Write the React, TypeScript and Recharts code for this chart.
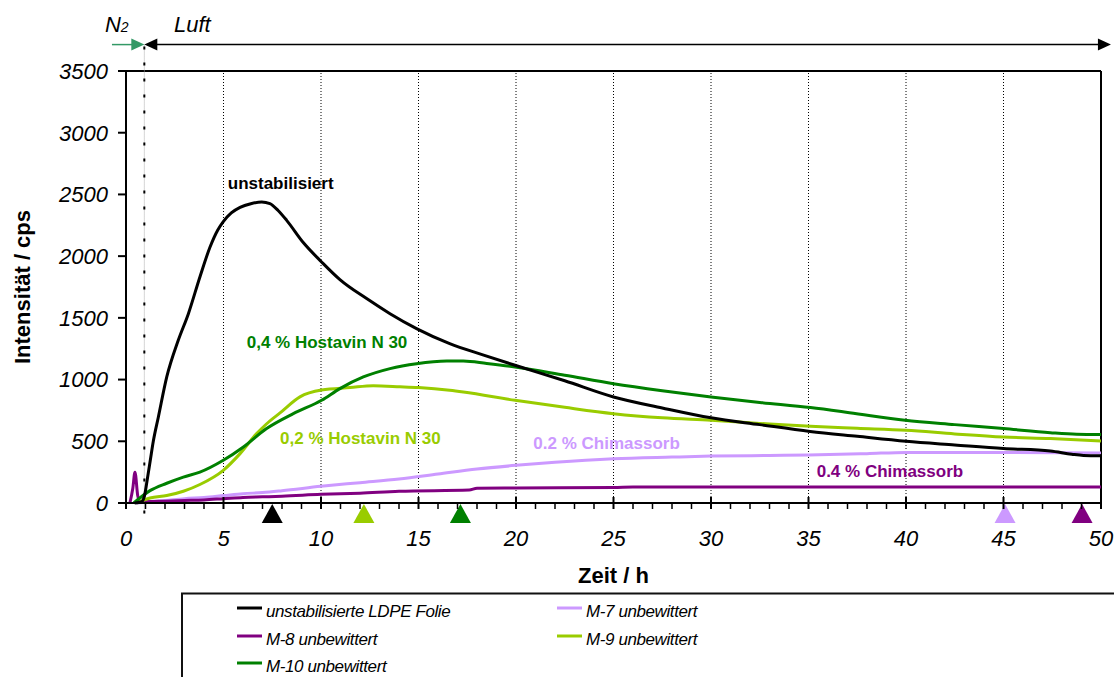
import React from 'react';
import { LineChart, Line, XAxis, YAxis, ReferenceLine, ReferenceDot } from 'recharts';

const FONT = '"Liberation Sans", Arial, Helvetica, sans-serif';

// ---- series data (time in h, intensity in cps) ----
const unstabTime = [0.45, 0.8, 0.95, 1.1, 1.25, 1.4, 1.66, 2.09, 2.68, 3.2, 3.79, 4.31, 4.7, 4.99, 5.4, 5.85, 6.4, 6.96, 7.38, 7.8, 8.24, 9.09, 10.03, 10.97, 12.34, 13.54, 14.9, 16.6, 18.3, 19.95, 22.5, 25, 27.5, 30, 32.5, 35.08, 37.5, 40, 42.5, 45, 47.4, 48.5, 49.1, 50];
const unstabValue = [0, 10, 60, 200, 350, 500, 697, 1021, 1318, 1534, 1831, 2074, 2210, 2280, 2350, 2395, 2425, 2439, 2426, 2370, 2290, 2110, 1953, 1810, 1656, 1534, 1413, 1291, 1200, 1116, 990, 859, 770, 690, 635, 580, 540, 500, 470, 441, 421, 395, 385, 382];

const m7Time = [0.5, 0.9, 2, 3, 4, 5, 6, 7, 8, 10, 12, 14, 16, 18, 20, 22, 25, 28, 30, 33, 35, 38, 40, 45, 50];
const m7Value = [0, 5, 20, 35, 45, 60, 75, 85, 100, 135, 165, 195, 235, 275, 305, 330, 358, 372, 380, 385, 388, 400, 410, 410, 405];

const m8Time = [0.2, 0.35, 0.46, 0.6, 0.72, 1, 2, 3, 4, 5, 6, 7, 8, 10, 12, 14, 17.6, 18, 20, 25, 26, 30, 40, 50];
const m8Value = [0, 120, 250, 60, 5, 10, 15, 20, 25, 35, 45, 50, 55, 70, 80, 95, 105, 120, 122, 125, 130, 130, 130, 130];

const m9Time = [0.55, 1.23, 2.09, 2.94, 3.79, 4.99, 5.85, 6.7, 7.2, 7.9, 8.92, 10.03, 11.49, 12.68, 14.05, 15, 16.6, 17.3, 19.95, 22.5, 25, 27.5, 30, 32.5, 35.1, 37.5, 40, 42.5, 45, 47.4, 50];
const m9Value = [0, 40, 60, 95, 150, 265, 400, 562, 640, 730, 860, 915, 935, 950, 942, 935, 913, 899, 832, 775, 724, 690, 670, 645, 621, 605, 589, 560, 535, 522, 502];

const m10Time = [0.4, 1.23, 2.09, 2.94, 3.79, 4.99, 6.02, 7.21, 8.58, 10.03, 10.97, 12.17, 13.54, 14.9, 16.45, 17.3, 18.5, 19.95, 22.5, 25, 27.5, 30, 32.5, 35.1, 37.1, 39.95, 42.5, 45, 47.4, 48.75, 50];
const m10Value = [0, 100, 160, 210, 250, 346, 454, 603, 724, 832, 927, 1021, 1089, 1129, 1150, 1150, 1130, 1102, 1035, 967, 910, 859, 815, 773, 732, 670, 635, 603, 570, 557, 554];

// ---- axes ----
const xTicks = [0, 1, 2, 3, 4, 5, 6, 7, 8, 9, 10, 11, 12, 13, 14, 15, 16, 17, 18, 19, 20, 21, 22, 23, 24, 25, 26, 27, 28, 29, 30, 31, 32, 33, 34, 35, 36, 37, 38, 39, 40, 41, 42, 43, 44, 45, 46, 47, 48, 49, 50];
const xLabelTicks = [0, 5, 10, 15, 20, 25, 30, 35, 40, 45, 50];
const yTicks = [0, 500, 1000, 1500, 2000, 2500, 3000, 3500];
const gridX = [5, 10, 15, 20, 25, 30, 35, 40, 45];

// ---- markers below axis (induction times) ----
const markerTime = [7.5, 12.2, 17.15, 45.08, 49.03];
const markerColor = ['#000000', '#99cc00', '#008000', '#cc99ff', '#800080'];

// ---- in-plot annotations ----
const noteText = ['unstabilisiert', '0,4 % Hostavin N 30', '0,2 % Hostavin N 30', '0.2 % Chimassorb', '0.4 % Chimassorb'];
const noteX = [5.22, 6.19, 7.9, 20.89, 35.42];
const noteY = [2545, 1253, 481, 441, 211];
const noteColor = ['#000000', '#008000', '#99cc00', '#cc99ff', '#800080'];

// ---- atmosphere annotation (N2 / Luft) ----
const switchTime = 0.94;
const arrowLevel = 3714;
const atmoLabelLevel = 3815;
const n2LabelX = -1.08;
const luftLabelX = 2.46;
const greenArrowStart = -0.72;
const blackArrowEnd = 50.51;

const X_TICK_SIZE = 6;
const X_TICK_MARGIN = 21;

const series = [
  { key: 'unstab', name: 'unstabilisierte LDPE Folie', color: '#000000', time: unstabTime, value: unstabValue },
  { key: 'm7', name: 'M-7 unbewittert', color: '#cc99ff', time: m7Time, value: m7Value },
  { key: 'm8', name: 'M-8 unbewittert', color: '#800080', time: m8Time, value: m8Value },
  { key: 'm9', name: 'M-9 unbewittert', color: '#99cc00', time: m9Time, value: m9Value },
  { key: 'm10', name: 'M-10 unbewittert', color: '#008000', time: m10Time, value: m10Value },
];
const drawOrder = ['m7', 'm8', 'm9', 'm10', 'unstab'];

const toData = (t: number[], v: number[]) => t.map((x, i) => ({ t: x, v: v[i] }));

const XTick = (props: any) => {
  const { x, y, payload } = props;
  const v = payload.value;
  const axisY = y - X_TICK_SIZE - X_TICK_MARGIN;
  const major = xLabelTicks.includes(v);
  return (
    <g>
      <line x1={x} x2={x} y1={major ? axisY - 6 : axisY} y2={axisY + 6} stroke="#000" strokeWidth={major ? 2 : 1.5} />
      {major && (
        <text x={x} y={y} dy="0.71em" textAnchor="middle" fontSize={22} fontStyle="italic" fill="#000" fontFamily={FONT}>
          {v}
        </text>
      )}
    </g>
  );
};

const triangleShape = (color: string) => (p: any) => {
  const { cx, cy } = p;
  return <polygon points={`${cx},${cy + 1} ${cx - 10.5},${cy + 20} ${cx + 10.5},${cy + 20}`} fill={color} />;
};

const arrowHead = (dir: 'left' | 'right', color: string) => (p: any) => {
  const { cx, cy } = p;
  const pts = dir === 'right'
    ? `${cx},${cy} ${cx - 13},${cy - 6} ${cx - 13},${cy + 6}`
    : `${cx},${cy} ${cx + 13},${cy - 6} ${cx + 13},${cy + 6}`;
  return <polygon points={pts} fill={color} />;
};

const noteShape = (text: string, color: string) => (p: any) => (
  <text x={p.cx} y={p.cy} fill={color} fontSize={17} fontWeight="bold" fontFamily={FONT} textAnchor="start">
    {text}
  </text>
);

const n2Shape = (p: any) => (
  <text x={p.cx} y={p.cy} fill="#000" fontSize={22} fontStyle="italic" fontFamily={FONT}>
    N<tspan fontSize={14}>2</tspan>
  </text>
);
const luftShape = (p: any) => (
  <text x={p.cx} y={p.cy} fill="#000" fontSize={22} fontStyle="italic" fontFamily={FONT}>
    Luft
  </text>
);

const legendCols = [237, 557];
const legendRows = [608, 636, 663];

export default function App() {
  return (
    <div style={{ position: 'absolute', left: 0, top: 0, width: 1114, height: 677, overflow: 'hidden', background: '#fff', fontFamily: FONT }}>
      <LineChart width={1114} height={677} margin={{ top: 71, right: 13, bottom: 74, left: 0 }}>
        <XAxis
          dataKey="t"
          type="number"
          domain={[0, 50]}
          ticks={xTicks}
          interval={0}
          tick={<XTick />}
          tickLine={false}
          tickSize={X_TICK_SIZE}
          tickMargin={X_TICK_MARGIN}
          axisLine={{ stroke: '#000', strokeWidth: 2 }}
          height={100}
          allowDuplicatedCategory={false}
          label={{ value: 'Zeit / h', position: 'insideBottom', offset: 20, fontSize: 22, fontWeight: 'bold', fill: '#000' }}
        />
        <YAxis
          type="number"
          domain={[0, 3500]}
          ticks={yTicks}
          interval={0}
          width={126}
          tickSize={8}
          tickMargin={10}
          tickLine={{ stroke: '#000', strokeWidth: 2 }}
          axisLine={{ stroke: '#000', strokeWidth: 2 }}
          tick={{ fontSize: 22, fontStyle: 'italic', fill: '#000' }}
          label={{ value: 'Intensität / cps', angle: -90, position: 'insideLeft', offset: 22, style: { textAnchor: 'middle' }, fontSize: 22, fontWeight: 'bold', fill: '#000' }}
        />
        {gridX.map((g) => (
          <ReferenceLine key={'g' + g} x={g} stroke="#000" strokeWidth={1} strokeDasharray="1 2" />
        ))}
        <ReferenceLine y={3500} stroke="#000" strokeWidth={2} />
        <ReferenceLine x={50} stroke="#000" strokeWidth={2} />
        {/* N2 / Luft switch line */}
        <ReferenceLine segment={[{ x: switchTime, y: -85 }, { x: switchTime, y: arrowLevel }]} stroke="#aaa" strokeWidth={1} strokeDasharray="1 1" ifOverflow="visible" />
        <ReferenceLine segment={[{ x: switchTime, y: -85 }, { x: switchTime, y: arrowLevel }]} stroke="#000" strokeWidth={2} strokeDasharray="3 13" ifOverflow="visible" />
        {/* arrows */}
        <ReferenceLine segment={[{ x: switchTime + 0.6, y: arrowLevel }, { x: blackArrowEnd - 0.6, y: arrowLevel }]} stroke="#000" strokeWidth={1.5} ifOverflow="visible" />
        <ReferenceLine segment={[{ x: greenArrowStart, y: arrowLevel }, { x: switchTime - 0.6, y: arrowLevel }]} stroke="#339966" strokeWidth={1.5} ifOverflow="visible" />
        <ReferenceDot x={switchTime} y={arrowLevel} ifOverflow="visible" shape={arrowHead('left', '#000')} />
        <ReferenceDot x={blackArrowEnd} y={arrowLevel} ifOverflow="visible" shape={arrowHead('right', '#000')} />
        <ReferenceDot x={switchTime} y={arrowLevel} ifOverflow="visible" shape={arrowHead('right', '#339966')} />
        <ReferenceDot x={n2LabelX} y={atmoLabelLevel} ifOverflow="visible" shape={n2Shape} />
        <ReferenceDot x={luftLabelX} y={atmoLabelLevel} ifOverflow="visible" shape={luftShape} />

        {drawOrder.map((k) => {
          const s = series.find((q) => q.key === k)!;
          return (
            <Line
              key={s.key}
              data={toData(s.time, s.value)}
              dataKey="v"
              name={s.name}
              type="monotone"
              stroke={s.color}
              strokeWidth={3}
              dot={false}
              activeDot={false}
              isAnimationActive={false}
            />
          );
        })}

        {markerTime.map((t, i) => (
          <ReferenceDot key={'m' + i} x={t} y={0} ifOverflow="visible" shape={triangleShape(markerColor[i])} />
        ))}
        {noteText.map((txt, i) => (
          <ReferenceDot key={'n' + i} x={noteX[i]} y={noteY[i]} ifOverflow="visible" shape={noteShape(txt, noteColor[i])} />
        ))}
      </LineChart>

      <svg width={1114} height={677} style={{ position: 'absolute', left: 0, top: 0, pointerEvents: 'none' }}>
        <rect x={182} y={593.5} width={1000} height={200} fill="none" stroke="#111" strokeWidth={2} />
        {series.map((s, i) => {
          const col = i % 2;
          const row = Math.floor(i / 2);
          const lx = legendCols[col];
          const ly = legendRows[row];
          return (
            <g key={'lg' + s.key}>
              <line x1={lx} x2={lx + 25} y1={ly} y2={ly} stroke={s.color} strokeWidth={3} />
              <text x={lx + 29} y={ly + 9} fontSize={17} fontStyle="italic" letterSpacing={-0.4} fill="#000" fontFamily={FONT}>
                {s.name}
              </text>
            </g>
          );
        })}
      </svg>
    </div>
  );
}
